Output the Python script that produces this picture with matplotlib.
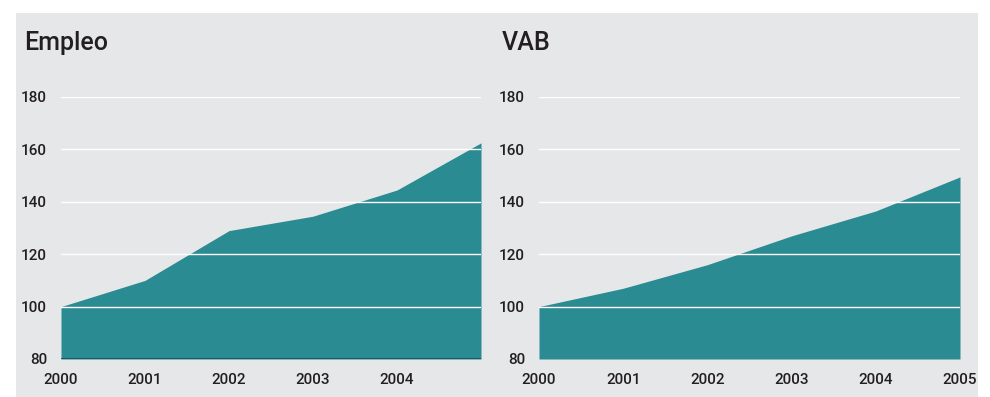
import matplotlib.pyplot as plt
from matplotlib.patches import Rectangle

years = [2000, 2001, 2002, 2003, 2004, 2005]
empleo = [100, 110, 129, 134.5, 144.5, 162.5]
vab = [100, 107, 116, 127, 136.5, 149.5]
yticks = [80, 100, 120, 140, 160, 180]

TEAL = '#2a8b92'
BG = '#e6e7e9'
TXT = '#231f20'

plt.rcParams['font.family'] = ['Roboto', 'DejaVu Sans']

fig = plt.figure(figsize=(9.9, 3.97), dpi=100)
fig.patches.append(Rectangle((16 / 990, 0), (978 - 16) / 990, (397 - 13) / 397,
                             transform=fig.transFigure, facecolor=BG,
                             edgecolor='none', zorder=-10))

W, H = 990, 397
panels = [
    ('Empleo', empleo, 61, 481, [2000, 2001, 2002, 2003, 2004], True),
    ('VAB', vab, 539, 960, years, False),
]
for title, vals, x0, x1, xlab, baseline in panels:
    ax = fig.add_axes([x0 / W, (H - 359) / H, (x1 - x0) / W, (359 - 97) / H])
    ax.set_facecolor('none')
    ax.fill_between(years, vals, 80, color=TEAL, linewidth=0, zorder=1)
    for t in yticks[1:]:
        ax.axhline(t, color='white', linewidth=1, zorder=2)
    if baseline:
        ax.axhline(80, color='#1d4e52', linewidth=1.2, zorder=3)
    ax.set_xlim(2000, 2005)
    ax.set_ylim(80, 180)
    ax.set_yticks(yticks)
    ax.set_yticklabels([str(t) for t in yticks])
    ax.set_xticks(xlab)
    ax.set_xticklabels([str(x) for x in xlab])
    ax.tick_params(length=0, labelsize=11, colors=TXT, pad=10)
    ax.tick_params(axis='x', pad=10)
    for lab in ax.get_xticklabels() + ax.get_yticklabels():
        lab.set_fontweight('medium')
    for s in ax.spines.values():
        s.set_visible(False)
    fig.text((x0 - 37) / W, (H - 43) / H, title, fontsize=18, fontweight='medium',
             color=TXT, va='center', ha='left')

fig.savefig('out.png', dpi=100)
